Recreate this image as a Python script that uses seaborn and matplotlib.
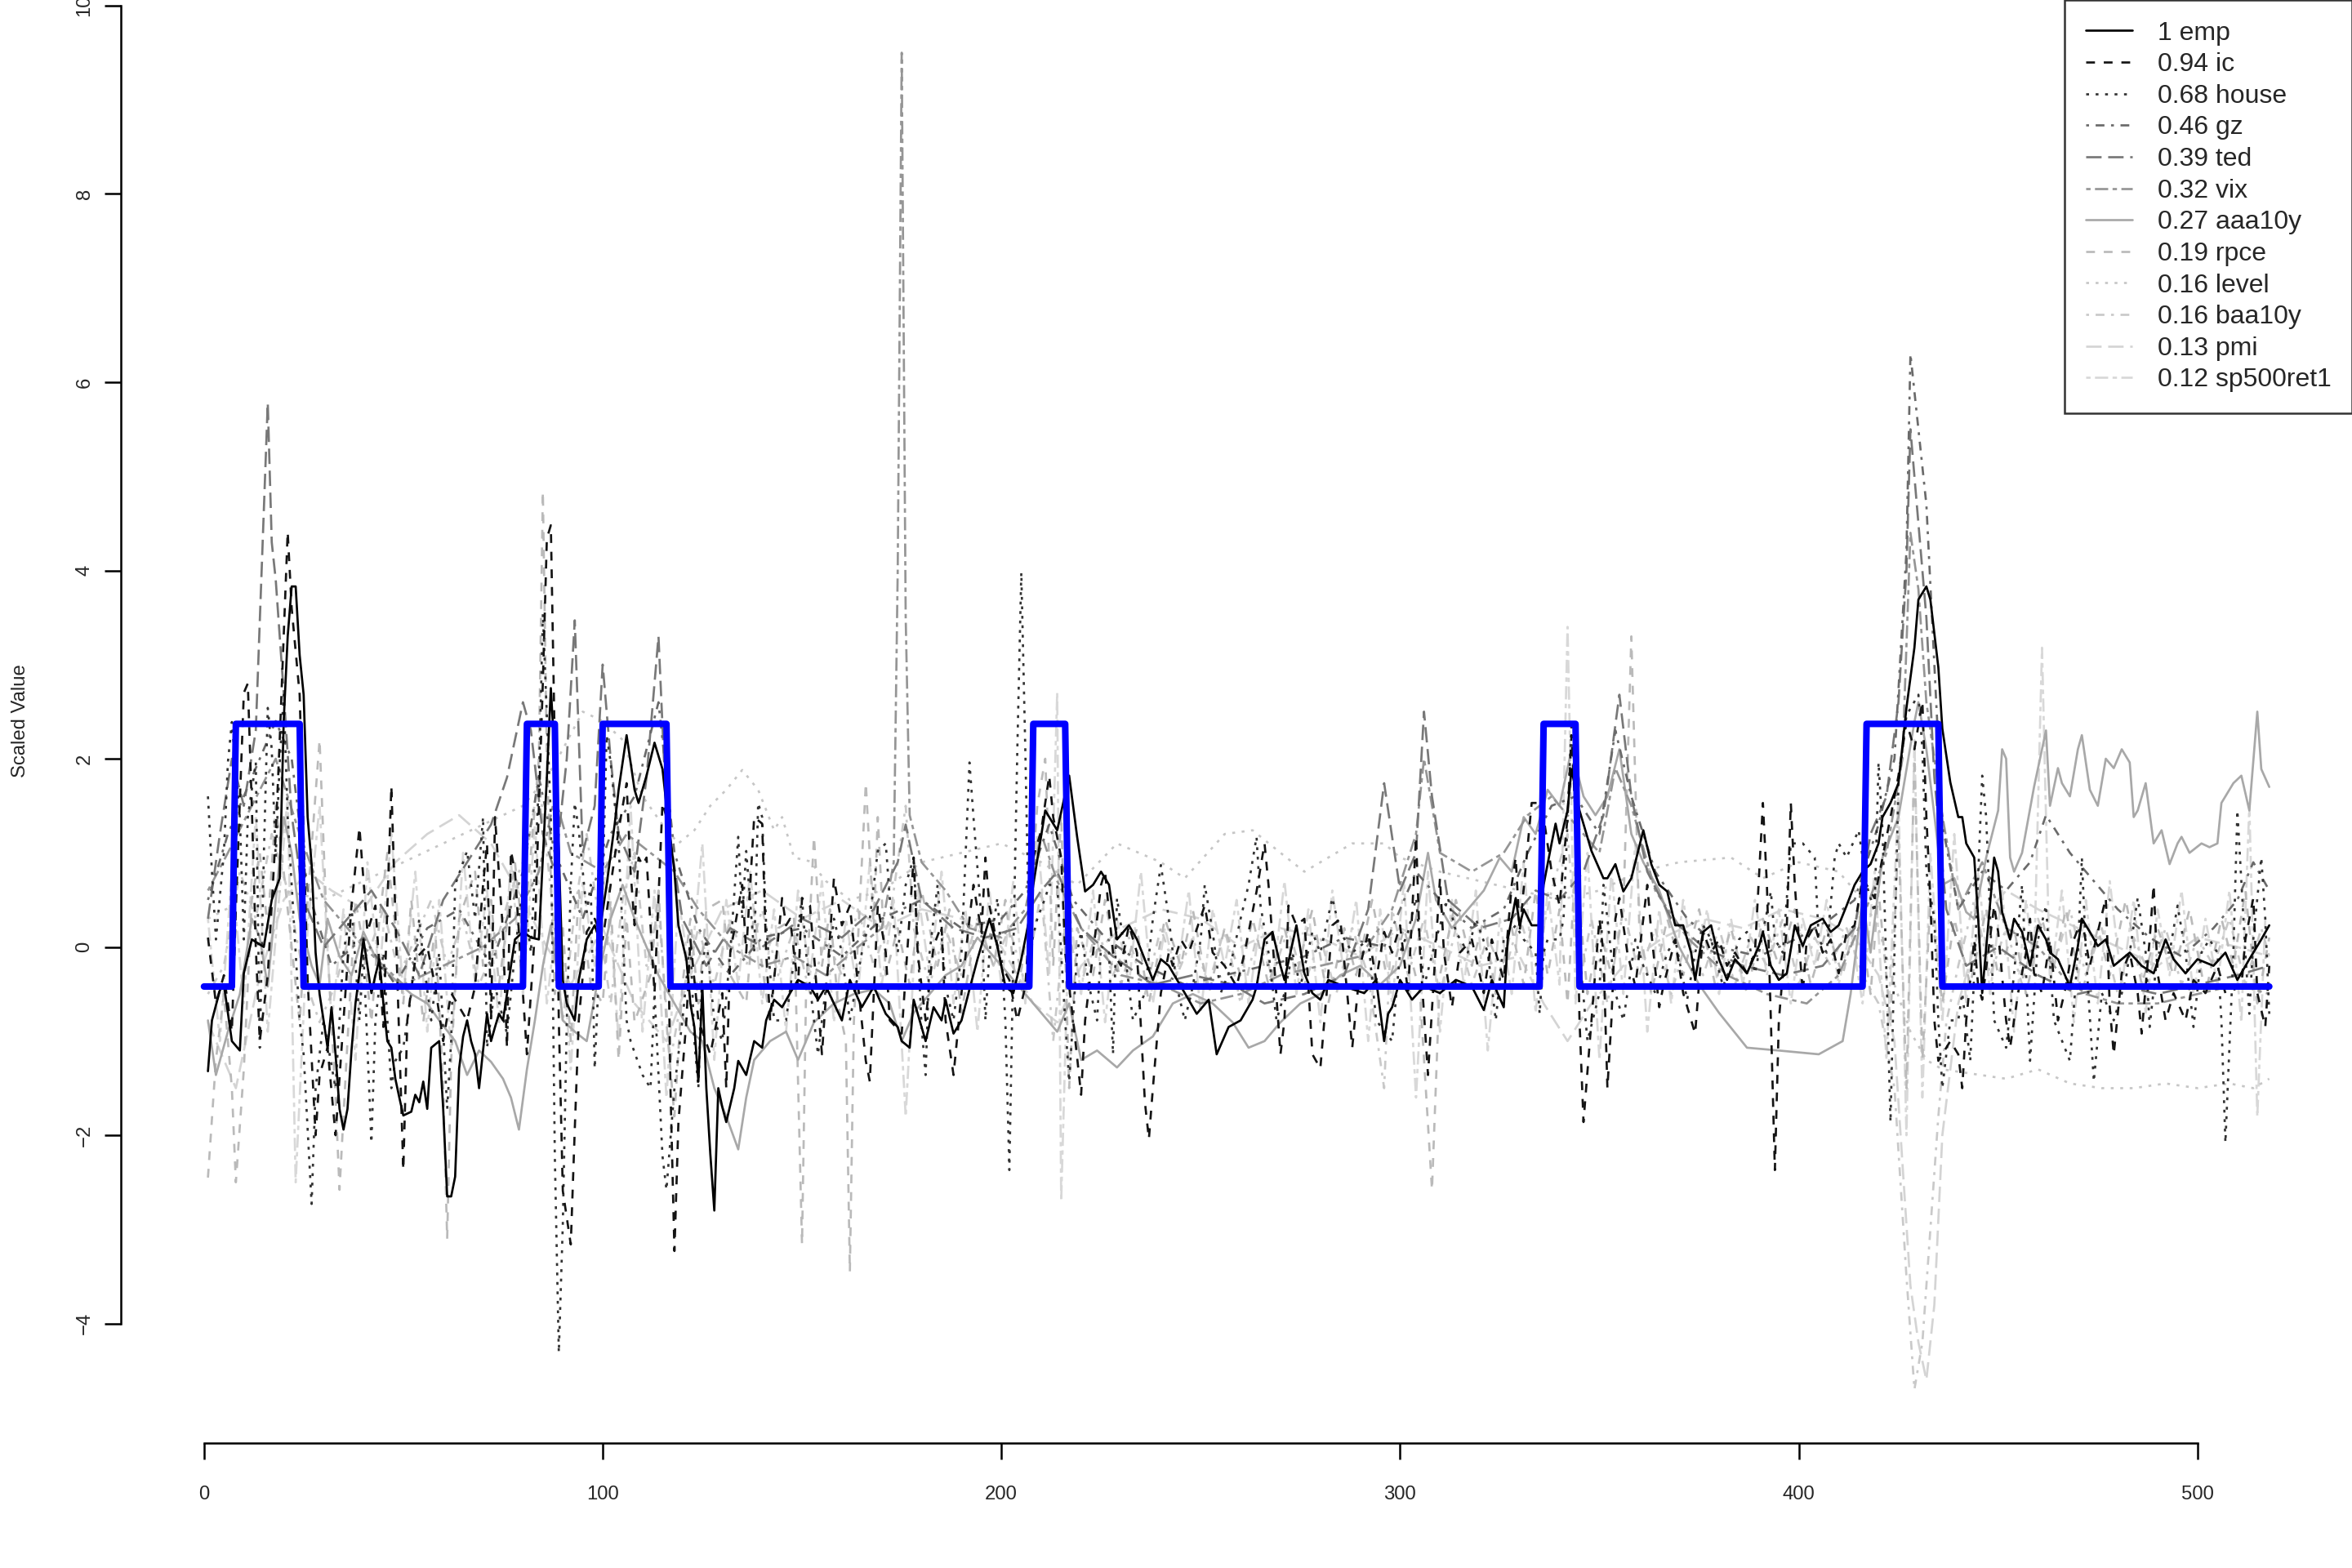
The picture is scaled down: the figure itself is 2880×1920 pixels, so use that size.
import numpy as np
import matplotlib
matplotlib.use('Agg')
import matplotlib.pyplot as plt
import seaborn as sns
from matplotlib.lines import Line2D

# values as (index, scaled value)
emp_pts = [(1,-1.32),(2,-0.78),(4,-0.46),(5,-0.40),(7,-1.0),(9,-1.1),(10,-0.28),(12,0.08),(15,0.0),(17,0.5),(19,0.73),
    (20,2.4),(21,3.3),(22,3.83),(23,3.83),(24,3.1),(25,2.68),(26,1.38),(27,0.88),(28,-0.06),(29,-0.5),(30,-0.78),
    (31,-1.07),(32,-0.64),(33,-1.14),(34,-1.72),(35,-1.94),(36,-1.72),(37,-1.1),(38,-0.6),(39,-0.28),(40,0.08),
    (41,-0.2),(42,-0.49),(43,-0.3),(44,-0.13),(45,-0.6),(46,-1.0),(47,-1.07),(48,-1.4),(49,-1.6),(50,-1.79),
    (52,-1.75),(53,-1.57),(54,-1.65),(55,-1.43),(56,-1.72),(57,-1.07),(59,-1.0),(60,-1.72),(61,-2.65),(62,-2.65),
    (63,-2.44),(64,-1.29),(65,-0.95),(66,-0.78),(67,-1.0),(68,-1.14),(69,-1.5),(70,-1.1),(71,-0.71),(72,-1.0),
    (73,-0.85),(74,-0.71),(75,-0.78),(76,-0.5),(77,-0.2),(78,0.08),(80,0.16),(82,0.1),(84,0.08),(85,0.95),(86,1.8),
    (87,2.75),(88,2.0),(89,1.0),(90,-0.35),(91,-0.6),(93,-0.78),(94,-0.35),(96,0.08),(98,0.23),(99,0.1),(101,0.66),
    (103,1.3),(104,1.67),(106,2.25),(108,1.67),(109,1.53),(111,1.82),(113,2.17),(115,1.89),(116,1.5),(118,0.8),
    (119,0.23),(121,-0.13),(122,-0.6),(123,-0.85),(124,-1.43),(125,-0.42),(126,-1.5),(127,-2.2),(128,-2.8),
    (129,-1.5),(130,-1.7),(131,-1.86),(133,-1.5),(134,-1.21),(136,-1.36),(138,-1.0),(140,-1.07),(141,-0.78),
    (143,-0.56),(145,-0.64),(147,-0.49),(149,-0.35),(152,-0.42),(154,-0.56),(156,-0.42),(158,-0.6),(160,-0.78),
    (162,-0.35),(165,-0.64),(168,-0.42),(171,-0.71),(174,-0.85),(175,-1.0),(177,-1.07),(178,-0.56),(181,-1.0),
    (183,-0.64),(185,-0.78),(186,-0.56),(188,-0.92),(190,-0.78),(192,-0.45),(194,-0.13),(197,0.30),(199,0.01),
    (201,-0.42),(203,-0.49),(205,-0.13),(207,0.3),(208,0.66),(211,1.45),(214,1.24),(217,1.82),(219,1.17),
    (221,0.59),(223,0.66),(225,0.80),(227,0.66),(229,0.08),(232,0.23),(234,0.08),(238,-0.35),(240,-0.13),
    (242,-0.2),(246,-0.49),(249,-0.71),(252,-0.56),(254,-1.14),(257,-0.85),(260,-0.78),(263,-0.56),(264,-0.42),
    (266,0.08),(268,0.16),(270,-0.2),(271,-0.35),(274,0.23),(276,-0.28),(278,-0.49),(280,-0.56),(282,-0.35),
    (286,-0.42),(291,-0.49),(294,-0.35),(296,-1.0),(297,-0.71),(298,-0.64),(300,-0.35),(303,-0.56),(306,-0.42),
    (310,-0.49),(314,-0.35),(318,-0.42),(321,-0.67),(323,-0.35),(326,-0.64),(327,0.08),(329,0.52),(330,0.23),
    (331,0.4),(333,0.23),(335,0.23),(336,0.66),(338,1.10),(339,1.31),(340,1.10),(342,1.45),(343,1.89),(345,1.45),
    (348,1.02),(351,0.73),(352,0.73),(354,0.88),(356,0.59),(358,0.73),(361,1.24),(363,0.88),(365,0.66),(367,0.59),
    (369,0.23),(371,0.23),(373,-0.06),(374,-0.35),(376,0.16),(378,0.23),(380,-0.13),(382,-0.35),(384,-0.13),
    (387,-0.28),(390,0.01),(391,0.16),(393,-0.2),(395,-0.35),(397,-0.28),(399,0.23),(401,0.01),(403,0.23),
    (406,0.30),(408,0.16),(410,0.23),(412,0.44),(414,0.66),(416,0.80),(418,0.88),(420,1.10),(421,1.38),(423,1.53),
    (425,1.74),(427,2.54),(429,3.18),(430,3.69),(431,3.76),(432,3.83),(433,3.69),(435,2.97),(436,2.32),(438,1.75),
    (440,1.38),(441,1.38),(442,1.10),(444,0.95),(445,0.30),(446,-0.49),(449,0.95),(450,0.80),(451,0.37),(453,0.08),
    (454,0.30),(456,0.16),(458,-0.2),(460,0.23),(462,0.08),(463,-0.06),(465,-0.13),(468,-0.42),(470,0.01),
    (471,0.30),(473,0.16),(475,0.01),(477,0.08),(479,-0.2),(481,-0.13),(483,-0.06),(486,-0.2),(489,-0.28),
    (492,0.08),(494,-0.13),(497,-0.28),(500,-0.13),(504,-0.2),(507,-0.06),(510,-0.35),(513,-0.13),(516,0.08),
    (518,0.23)]

ic_pts = [(1,0.1),(3,-0.6),(5,-0.3),(7,-0.9),(8,0.4),(10,2.7),(11,2.8),(12,1.5),(13,0.0),(14,-1.0),(16,-0.3),
    (18,1.2),(19,2.2),(21,4.41),(22,3.6),(24,2.68),(26,-0.35),(28,-2.0),(29,-1.36),(31,-1.07),(33,-2.0),(37,0.44),
    (39,1.27),(41,0.16),(43,0.44),(45,-0.85),(47,1.71),(50,-2.37),(51,-0.78),(53,-0.13),(56,0.01),(58,-0.42),
    (60,-1.0),(62,-0.49),(66,-0.78),(68,-0.42),(70,0.66),(71,1.1),(72,-0.78),(73,1.38),(75,0.16),(76,-1.07),
    (77,1.02),(78,0.8),(81,-1.14),(83,0.16),(85,2.82),(86,4.34),(87,4.48),(88,2.1),(89,-0.78),(90,-2.59),
    (92,-3.16),(93,-1.94),(94,-0.78),(96,0.16),(98,0.30),(100,0.08),(102,0.66),(104,1.24),(106,1.74),(107,0.8),
    (108,0.23),(109,0.95),(110,0.87),(111,0.95),(112,0.23),(113,-0.49),(115,1.53),(116,1.38),(117,-1.5),
    (118,-3.23),(119,-1.86),(121,-0.78),(122,0.08),(124,-0.78),(127,-1.14),(130,-0.49),(131,-1.5),(132,-0.06),
    (135,0.66),(136,-0.06),(138,1.38),(140,1.31),(141,-0.06),(142,-0.78),(145,0.52),(146,0.23),(147,0.30),
    (149,-0.42),(150,0.52),(152,0.44),(155,-1.14),(158,0.73),(160,0.23),(162,0.44),(166,-1.21),(167,-1.43),
    (169,0.44),(171,-0.06),(172,-0.78),(175,-0.92),(178,0.95),(179,-0.06),(181,-0.78),(183,0.01),(185,0.23),
    (186,-0.78),(188,-1.36),(190,-0.49),(192,0.30),(193,0.66),(195,0.16),(196,0.95),(197,0.44),(200,-0.2),
    (202,-0.35),(204,-0.78),(206,-0.42),(207,0.23),(208,0.95),(210,1.24),(212,1.82),(213,1.38),(215,0.95),
    (216,-0.06),(218,-0.78),(220,-1.57),(221,-0.78),(223,-0.06),(225,0.66),(226,0.80),(228,-0.06),(230,-0.2),
    (232,0.23),(234,-0.06),(236,-1.65),(237,-2.04),(238,-1.5),(240,-0.49),(242,-0.06),(243,-0.2),(245,0.08),
    (247,-0.06),(251,0.44),(253,-0.06),(256,-0.2),(259,-0.42),(261,-0.06),(264,0.59),(266,1.10),(267,0.66),
    (268,0.08),(270,-1.14),(271,-0.78),(272,0.44),(274,0.23),(276,0.30),(278,-1.14),(280,-1.29),(282,-0.28),
    (283,0.23),(285,0.30),(288,-1.07),(290,-0.2),(292,0.16),(294,-0.35),(296,0.16),(298,-0.06),(300,0.23),
    (302,-0.49),(304,1.17),(305,-0.06),(307,-1.36),(310,0.73),(311,-0.06),(313,-0.64),(315,-0.06),(318,0.08),
    (321,-0.49),(323,0.08),(326,-0.35),(328,0.66),(329,0.95),(330,0.16),(333,1.53),(335,1.53),(336,1.38),
    (338,0.80),(340,0.44),(342,1.38),(343,2.25),(344,1.38),(345,-0.78),(346,-1.86),(348,-0.78),(350,0.30),
    (351,-0.06),(352,-1.5),(353,-0.78),(354,0.30),(355,0.52),(357,-0.06),(359,-0.42),(361,0.30),(362,0.66),
    (363,0.16),(365,-0.64),(366,-0.42),(369,0.08),(371,-0.49),(374,-0.92),(376,0.16),(378,-0.06),(380,0.08),
    (382,-0.2),(384,-0.06),(387,-0.28),(389,-0.06),(391,1.53),(392,0.66),(393,-0.78),(394,-2.37),(395,-0.78),
    (397,0.23),(398,1.53),(399,0.66),(401,-0.49),(402,0.08),(404,0.23),(406,-0.06),(408,0.08),(410,-0.28),
    (412,0.16),(414,0.23),(416,0.73),(419,0.52),(421,0.95),(423,1.38),(425,1.82),(427,2.39),(429,2.1),(431,2.61),
    (432,1.38),(433,0.52),(434,-0.78),(435,-1.21),(438,-1.0),(440,-1.14),(441,-1.5),(442,-0.78),(444,0.08),
    (445,-0.42),(446,-0.56),(449,0.44),(450,0.16),(452,-0.78),(453,-1.07),(455,-0.49),(457,-0.06),(458,0.30),
    (459,-0.28),(461,-0.49),(463,0.08),(465,-0.78),(467,-0.42),(469,0.08),(471,0.30),(473,-0.2),(475,0.16),
    (477,0.52),(478,-0.64),(479,-1.14),(481,-0.28),(483,-0.06),(485,-0.49),(486,-0.92),(488,0.08),(489,0.66),
    (490,-0.28),(492,-0.78),(494,-0.49),(497,-0.78),(499,-0.35),(502,-0.49),(505,-0.2),(507,-0.49),(511,-0.42),
    (512,0.08),(514,0.52),(515,-0.49),(517,-0.85),(518,-0.2)]

house_pts = [(1,1.6),(2,0.8),(3,0.08),(5,1.0),(6,1.96),(7,2.39),(9,1.38),(10,0.08),(11,1.38),(13,1.96),(14,-1.07),
    (15,0.95),(16,2.54),(17,2.1),(18,0.95),(19,1.96),(20,2.68),(21,1.38),(24,-0.78),(25,-1.14),(27,-2.73),
    (28,-1.5),(30,-0.78),(33,-1.5),(35,-0.06),(37,0.44),(39,-0.78),(40,-0.06),(42,-2.08),(43,-0.78),(45,-0.06),
    (47,-1.5),(48,-1.21),(50,-1.07),(52,-0.49),(54,0.30),(55,-0.13),(57,-0.78),(59,-0.06),(61,-1.72),(62,-1.0),
    (63,0.66),(66,1.02),(68,0.30),(70,1.38),(71,-1.07),(73,-0.42),(76,-0.92),(78,-0.06),(80,0.66),(82,-0.06),
    (84,1.74),(85,3.54),(87,1.38),(88,-2.22),(89,-4.31),(90,-2.95),(91,-0.78),(92,0.66),(93,1.53),(94,1.24),
    (96,0.37),(97,0.66),(98,-1.29),(100,0.66),(101,2.25),(102,1.96),(104,1.10),(106,-0.78),(107,-1.0),
    (110,-1.36),(112,-1.5),(113,-0.49),(115,-2.22),(116,-2.58),(118,-1.5),(120,-0.78),(122,0.08),(123,-1.0),
    (124,-1.5),(125,-0.2),(126,0.08),(128,-0.78),(130,-1.0),(132,-0.06),(134,1.17),(135,0.30),(136,1.02),
    (138,-0.06),(139,1.53),(140,1.38),(141,0.23),(143,-0.78),(146,-0.78),(150,0.52),(151,-0.06),(154,-1.14),
    (158,0.30),(160,-0.06),(162,-0.78),(165,-0.06),(167,0.30),(169,1.02),(171,1.10),(172,0.52),(174,-0.06),
    (176,0.66),(178,0.95),(180,-0.85),(181,-1.36),(182,-0.06),(184,0.66),(186,-0.42),(188,-0.78),(190,-0.06),
    (192,1.96),(193,1.38),(195,0.30),(196,-0.78),(197,-0.06),(199,0.52),(200,-0.06),(201,-0.78),(202,-2.37),
    (203,-0.06),(204,2.1),(205,3.98),(206,2.1),(207,-0.06),(209,0.30),(211,0.52),(212,0.66),(214,0.66),
    (216,-0.78),(217,-1.43),(219,-0.06),(220,0.16),(222,-0.42),(224,-0.78),(225,0.01),(227,-0.06),(228,-1.14),
    (229,0.52),(231,-0.06),(233,-0.78),(236,-0.49),(238,0.30),(240,0.87),(242,0.30),(244,-0.42),(246,-0.78),
    (248,-0.42),(250,0.08),(251,0.66),(253,0.16),(255,-0.49),(257,-0.28),(260,0.30),(262,0.66),(264,1.17),
    (265,0.44),(267,-0.06),(269,-0.78),(271,-0.49),(273,-0.06),(275,-0.42),(278,0.16),(280,-0.06),(283,0.52),
    (285,0.16),(288,-0.06),(292,0.08),(294,-0.78),(298,-1.0),(300,-0.06),(302,0.16),(304,0.52),(306,-0.42),
    (309,0.08),(312,0.52),(314,0.16),(317,-0.06),(319,0.30),(322,-0.06),(324,-0.78),(326,0.08),(329,0.23),
    (331,0.08),(334,-0.06),(335,-0.71),(336,-0.06),(337,0.08),(340,0.08),(341,0.30),(343,2.39),(344,1.5),
    (345,-0.06),(347,-1.0),(350,-0.49),(351,0.66),(352,0.30),(354,-0.49),(356,-0.78),(359,0.08),(361,-0.2),
    (364,-0.49),(367,-0.06),(369,0.08),(372,-0.56),(374,-0.06),(376,0.23),(378,0.08),(381,-0.42),(383,-0.2),
    (385,0.08),(387,0.16),(389,-0.28),(393,0.59),(394,0.08),(396,-0.06),(398,1.10),(401,1.10),(404,0.95),
    (405,0.08),(407,-0.06),(409,0.95),(410,1.10),(412,0.95),(415,1.24),(417,0.66),(419,0.37),(420,1.96),
    (421,1.24),(423,-1.86),(424,-0.06),(425,1.74),(427,2.46),(430,2.68),(431,2.10),(432,0.80),(434,0.30),
    (435,-0.78),(436,-1.5),(438,-0.78),(440,-0.78),(441,-0.49),(443,-1.21),(444,-0.28),(446,1.82),(447,1.38),
    (449,-0.78),(452,-1.07),(454,-0.28),(456,0.66),(458,-1.21),(460,0.08),(462,0.44),(464,-0.78),(468,-1.21),
    (470,-0.06),(471,0.95),(472,-0.06),(474,-1.43),(476,-0.49),(479,-0.78),(482,-0.35),(485,0.52),(487,-0.06),
    (488,-0.85),(490,-0.06),(493,-0.06),(495,0.44),(497,-0.06),(499,-0.85),(501,-0.06),(503,0.08),(505,-0.06),
    (506,-0.78),(507,-2.08),(509,-0.06),(510,1.45),(512,-0.06),(513,-0.71),(514,0.08),(516,0.95),(517,0.30),
    (518,-0.71)]

gz_pts = [(1,0.5),(6,1.2),(12,1.8),(18,2.4),(22,2.0),(26,0.6),(32,-0.2),(40,0.1),(48,-0.4),(56,0.2),(64,0.4),
    (72,-0.2),(80,0.8),(84,1.8),(88,1.0),(95,0.3),(102,1.2),(108,1.6),(114,2.6),(118,1.0),(124,0.2),(132,-0.3),
    (140,0.1),(150,0.2),(160,-0.1),(170,0.3),(180,0.5),(190,0.2),(200,0.3),(206,0.6),(212,1.3),(218,0.5),
    (226,0.1),(236,-0.2),(246,-0.4),(256,-0.3),(266,-0.2),(276,-0.1),(286,0.1),(296,0.0),(304,0.8),(310,0.5),
    (318,0.2),(326,0.4),(332,1.0),(338,1.5),(344,1.6),(350,1.2),(354,2.3),(358,1.6),(364,0.8),(372,0.3),
    (380,0.0),(390,-0.1),(400,0.1),(408,0.3),(414,0.5),(420,1.3),(424,2.0),(427,4.2),(428,6.3),(430,5.5),
    (432,4.7),(434,3.0),(436,1.3),(440,0.4),(446,0.8),(452,0.6),(458,0.9),(462,1.4),(468,1.0),(474,0.7),
    (480,0.4),(488,0.1),(496,-0.1),(504,0.2),(510,0.5),(514,0.9),(518,0.6)]

ted_pts = [(1,0.3),(4,1.2),(7,2.0),(10,1.5),(13,2.3),(16,5.78),(17,4.3),(18,3.9),(20,2.7),(22,1.4),(25,0.5),
    (30,0.0),(36,0.3),(42,0.6),(48,0.2),(54,-0.3),(60,0.5),(66,0.9),(72,1.3),(76,1.8),(80,2.6),(82,2.3),
    (85,1.2),(88,0.8),(91,2.0),(93,3.47),(95,1.0),(98,1.5),(100,3.0),(102,2.0),(104,1.2),(108,0.8),(111,1.8),
    (114,3.3),(116,1.4),(120,0.3),(126,-0.2),(132,0.2),(140,0.0),(150,0.3),(160,0.1),(168,0.4),(174,0.9),
    (176,1.3),(180,0.5),(188,0.2),(196,0.1),(204,0.2),(210,0.6),(214,0.8),(220,0.2),(228,-0.1),(238,-0.4),
    (248,-0.3),(258,-0.4),(266,-0.6),(276,-0.5),(286,-0.3),(292,0.4),(296,1.74),(300,0.6),(304,1.0),(306,2.5),
    (308,1.6),(312,0.5),(320,0.2),(328,0.3),(334,0.6),(340,0.5),(346,0.8),(351,1.4),(355,2.68),(358,1.6),
    (362,0.8),(368,0.3),(376,0.0),(386,-0.2),(396,-0.3),(406,-0.2),(414,0.2),(418,1.2),(422,1.6),(425,2.6),
    (427,4.0),(428,5.5),(430,4.5),(432,3.5),(434,1.8),(437,0.4),(442,-0.2),(450,0.0),(460,-0.3),(470,-0.5),
    (480,-0.4),(490,-0.5),(500,-0.4),(510,-0.3),(518,-0.2)]

vix_pts = [(1,0.6),(6,1.0),(12,1.5),(18,2.0),(24,1.2),(30,0.5),(40,0.0),(50,-0.4),(60,-0.2),(70,0.0),(78,0.3),
    (84,0.8),(88,1.6),(92,1.0),(100,0.8),(106,1.2),(112,1.0),(118,0.8),(124,0.4),(132,0.0),(140,-0.2),
    (148,-0.1),(156,-0.3),(164,0.0),(170,0.2),(173,0.9),(174,4.0),(175,9.5),(176,3.5),(177,1.4),(180,0.9),
    (186,0.6),(192,0.2),(200,0.1),(206,0.4),(210,1.2),(214,0.7),(220,0.2),(230,-0.3),(240,-0.4),(250,-0.6),
    (260,-0.5),(270,-0.3),(280,-0.2),(290,-0.1),(298,0.4),(304,1.2),(306,2.0),(310,1.0),(318,0.8),(326,1.0),
    (332,1.4),(338,1.6),(344,1.3),(350,1.0),(354,1.9),(358,1.5),(364,0.6),(372,0.1),(382,-0.3),(392,-0.5),
    (402,-0.6),(410,-0.3),(416,0.3),(422,1.0),(426,2.0),(428,4.4),(430,3.8),(432,2.6),(436,1.4),(440,0.4),
    (446,0.9),(452,0.2),(460,0.0),(466,-0.3),(472,-0.5),(480,-0.6),(490,-0.6),(500,-0.5),(510,-0.4),(518,-0.5)]

aaa10y_pts = [(1,-0.78),(3,-1.36),(6,-0.9),(9,-0.5),(12,0.3),(14,0.1),(16,-0.42),(18,0.5),(20,1.38),(22,1.0),
    (24,0.3),(27,-0.2),(29,-0.4),(31,0.3),(34,-0.1),(37,-0.3),(40,0.16),(44,-0.2),(48,-0.35),(52,-0.5),
    (56,-0.6),(59,-0.78),(63,-1.0),(66,-1.36),(69,-1.1),(72,-1.22),(75,-1.4),(77,-1.6),(79,-1.94),(81,-1.3),
    (83,-0.78),(85,-0.2),(87,0.23),(89,-0.4),(90,-0.78),(93,-0.9),(96,-1.0),(99,-0.3),(102,0.3),(105,0.66),
    (108,0.3),(111,0.0),(114,-0.3),(118,-0.6),(122,-0.9),(125,-1.0),(128,-1.5),(131,-1.8),(134,-2.15),
    (136,-1.6),(138,-1.2),(142,-1.0),(146,-0.9),(149,-1.2),(153,-0.8),(158,-0.6),(163,-0.5),(168,-0.45),
    (172,-0.6),(175,-1.0),(178,-0.7),(182,-0.5),(186,-0.3),(190,-0.2),(194,0.1),(198,-0.1),(202,-0.3),
    (206,-0.5),(210,-0.7),(214,-0.9),(217,-0.6),(220,-1.2),(224,-1.1),(229,-1.28),(233,-1.1),(238,-0.95),
    (243,-0.6),(248,-0.5),(253,-0.6),(258,-0.8),(262,-1.07),(266,-1.0),(270,-0.8),(275,-0.6),(280,-0.5),
    (285,-0.3),(290,-0.2),(295,-0.4),(300,-0.2),(304,0.3),(307,1.0),(309,0.5),(313,0.2),(317,0.4),(321,0.6),
    (325,0.95),(328,0.8),(331,1.38),(334,1.2),(337,1.67),(340,1.5),(343,2.1),(346,1.6),(349,1.4),(352,1.6),
    (355,2.1),(358,1.2),(361,0.9),(365,0.6),(370,0.0),(375,-0.4),(380,-0.7),(387,-1.07),(395,-1.1),
    (405,-1.14),(411,-1.0),(413,-0.5),(416,0.52),(418,-0.06),(421,0.95),(425,1.38),(429,2.39),(430,2.6),
    (432,2.1),(434,1.4),(436,0.66),(439,0.73),(442,0.37),(444,0.3),(447,0.95),(450,1.45),(451,2.1),(452,2.0),
    (453,0.95),(454,0.8),(456,1.0),(459,1.7),(462,2.3),(463,1.5),(465,1.9),(466,1.74),(468,1.6),(470,2.1),
    (471,2.25),(473,1.67),(475,1.5),(477,2.0),(479,1.9),(481,2.1),(483,1.96),(484,1.38),(485,1.45),(487,1.74),
    (489,1.1),(491,1.24),(493,0.88),(495,1.1),(496,1.17),(498,1.0),(501,1.1),(503,1.06),(505,1.1),(506,1.53),
    (509,1.74),(511,1.82),(513,1.45),(515,2.5),(516,1.89),(518,1.7)]

rpce_pts = [(1,-2.45),(3,-1.2),(5,-0.5),(7,-1.5),(8,-2.5),(10,-1.3),(12,0.5),(14,1.0),(16,0.2),(18,1.5),
    (20,0.8),(22,0.0),(24,-0.8),(26,0.5),(29,2.2),(31,0.0),(33,-1.6),(34,-2.58),(36,-1.0),(38,0.5),(40,0.0),
    (42,-0.8),(44,0.3),(46,1.0),(48,0.2),(50,-0.6),(52,0.5),(55,-0.8),(58,0.2),(60,-1.5),(61,-3.1),(62,-1.2),
    (64,0.3),(68,0.8),(70,-0.2),(72,0.5),(74,-0.4),(78,0.9),(80,0.1),(82,1.0),(84,2.0),(85,4.84),(86,2.0),
    (88,-0.5),(90,0.2),(92,-1.0),(94,0.6),(97,-0.4),(100,-0.6),(102,0.5),(104,-1.2),(106,0.3),(108,-0.8),
    (112,-0.3),(114,0.6),(116,-0.8),(118,-1.8),(120,-0.4),(122,0.3),(124,-0.6),(126,0.4),(130,0.5),(132,-0.3),
    (136,-0.6),(138,0.4),(142,-0.8),(144,0.2),(148,0.3),(150,-3.16),(151,-0.5),(153,1.17),(155,-0.2),
    (157,0.4),(159,-0.6),(161,-1.0),(162,-3.45),(163,-0.8),(166,1.74),(168,0.2),(169,1.38),(171,-0.3),
    (174,0.2),(177,-0.4),(180,0.6),(184,-0.2),(187,0.4),(190,-0.7),(194,0.3),(198,-0.2),(201,0.5),(204,-0.5),
    (207,0.3),(209,1.5),(211,2.0),(213,-0.2),(215,1.4),(217,-1.5),(219,0.2),(223,-0.3),(226,0.5),(230,-0.4),
    (234,0.2),(237,-0.6),(241,0.3),(245,-0.2),(248,0.4),(252,-0.5),(256,0.2),(260,-0.3),(263,0.3),(267,-0.4),
    (271,0.2),(274,-0.3),(278,0.4),(282,-0.6),(286,0.2),(289,-0.3),(293,0.5),(297,-0.4),(301,0.2),(305,-0.5),
    (308,-2.58),(310,-0.3),(314,0.5),(318,-0.2),(321,0.3),(324,-0.5),(328,0.2),(331,-0.4),(334,0.6),(337,-0.3),
    (340,0.4),(342,-0.6),(344,0.9),(347,-0.5),(350,0.2),(353,-0.3),(356,0.4),(358,3.3),(360,0.2),(363,-0.5),
    (367,0.3),(371,-0.3),(375,0.4),(379,-0.4),(383,0.2),(387,-0.5),(391,0.3),(395,-0.2),(399,0.4),(403,-0.4),
    (407,0.2),(411,-0.3),(415,0.4),(418,-0.5),(420,0.6),(423,-0.8),(425,1.2),(427,-1.5),(429,2.0),(431,-1.2),
    (433,0.5),(436,-0.6),(439,0.3),(443,-0.4),(447,0.4),(450,-0.3),(454,0.2),(457,-0.5),(461,0.3),(464,-0.2),
    (467,0.4),(471,-0.5),(475,0.2),(478,-0.3),(482,0.5),(486,-0.4),(490,0.2),(494,-0.3),(498,0.4),(502,-0.5),
    (506,0.3),(509,-0.2),(512,0.6),(515,-0.6),(518,0.1)]

level_pts = [(1,0.3),(10,0.5),(20,0.6),(30,0.5),(40,0.7),(50,0.9),(60,1.1),(70,1.3),(80,1.5),(86,1.8),
    (90,2.1),(95,2.5),(100,2.4),(105,2.2),(110,1.6),(115,1.3),(119,1.1),(123,1.24),(127,1.5),(131,1.67),
    (135,1.88),(139,1.67),(143,1.24),(145,1.38),(148,0.95),(152,0.91),(156,0.7),(162,0.5),(170,0.6),(180,0.9),
    (190,1.0),(200,1.1),(210,0.9),(219,0.66),(229,1.1),(240,0.9),(246,0.73),(256,1.2),(263,1.24),(270,1.0),
    (276,0.8),(282,0.95),(288,1.1),(296,1.1),(300,0.95),(310,0.8),(320,0.7),(330,0.6),(340,0.5),(350,0.6),
    (360,0.8),(370,0.9),(383,0.95),(391,0.73),(400,0.9),(410,0.8),(416,0.5),(420,0.2),(424,-0.4),(428,-0.9),
    (432,-1.2),(436,-1.3),(444,-1.35),(452,-1.4),(460,-1.3),(468,-1.45),(476,-1.5),(484,-1.5),(492,-1.45),
    (500,-1.5),(508,-1.45),(514,-1.5),(518,-1.4)]

baa10y_pts = [(1,-0.5),(5,-0.2),(9,0.8),(13,0.3),(17,1.2),(21,0.6),(25,-0.3),(29,-0.8),(33,-0.4),(37,0.2),
    (41,-0.1),(45,0.4),(49,-0.3),(53,0.1),(57,0.5),(61,-0.2),(65,0.3),(69,-0.4),(73,0.0),(77,0.6),(81,1.0),
    (84,1.8),(87,0.6),(90,-0.8),(93,0.4),(96,1.2),(99,0.3),(102,-0.6),(105,0.5),(108,1.0),(111,-0.2),
    (114,0.4),(117,-1.2),(120,-0.5),(124,0.2),(128,-0.4),(132,0.3),(136,-0.2),(140,0.4),(144,-0.3),
    (148,0.2),(152,-0.5),(156,0.1),(160,-0.3),(164,0.4),(168,-0.2),(172,0.3),(176,1.5),(178,0.2),(182,-0.4),
    (186,0.2),(190,-0.3),(194,0.3),(198,-0.2),(202,0.2),(206,-0.4),(210,0.6),(213,-1.0),(216,0.3),(220,-0.4),
    (224,0.2),(228,-0.3),(232,0.1),(236,-0.5),(240,0.2),(244,-0.3),(248,0.1),(252,-0.4),(256,0.2),(260,-0.6),
    (264,0.1),(268,-0.3),(272,0.2),(276,-0.4),(280,0.1),(284,-0.5),(288,0.2),(292,-0.3),(296,-1.5),(298,0.4),
    (302,-0.3),(306,0.3),(310,-0.5),(314,0.2),(318,-0.4),(322,0.1),(326,-0.3),(330,0.3),(334,-0.2),(338,0.6),
    (342,1.2),(345,-0.4),(348,0.3),(352,-0.6),(356,0.4),(360,-0.3),(364,0.2),(368,-0.5),(372,0.1),(376,-0.3),
    (380,0.2),(384,-0.4),(388,0.1),(392,-0.2),(396,0.3),(400,-0.4),(404,0.1),(408,-0.2),(412,0.2),(416,-0.3),
    (420,-0.6),(424,-1.5),(427,-3.5),(429,-4.7),(431,-4.2),(433,-3.0),(435,-1.8),(437,-0.8),(440,-0.2),
    (444,0.5),(448,-0.3),(452,0.2),(456,-0.4),(460,0.3),(464,-0.2),(468,0.4),(472,-0.3),(476,0.2),(480,-0.5),
    (484,0.1),(488,-0.3),(492,0.2),(496,-0.4),(500,0.1),(504,-0.2),(508,0.3),(512,-0.4),(516,0.2),(518,-0.1)]

pmi_pts = [(1,-0.8),(8,-1.5),(14,-0.3),(20,0.5),(26,0.8),(32,0.6),(40,0.4),(48,0.9),(56,1.2),(64,1.4),
    (72,1.1),(80,0.5),(86,0.0),(92,-0.4),(100,0.2),(108,-0.6),(116,-1.0),(122,-0.3),(130,0.4),(140,0.6),
    (150,0.3),(160,0.5),(170,0.2),(180,0.4),(190,0.3),(200,0.0),(208,-0.6),(214,-0.8),(220,-0.2),(230,0.2),
    (240,0.4),(250,0.3),(260,0.0),(270,0.2),(280,0.1),(290,-0.1),(300,0.2),(310,0.0),(320,-0.2),(330,-0.1),
    (336,-0.6),(342,-1.0),(348,-0.6),(356,-0.2),(366,0.1),(376,0.3),(386,0.2),(396,0.4),(406,0.3),(414,0.1),
    (420,-0.3),(424,-1.0),(428,-3.6),(430,-4.2),(432,-4.6),(434,-3.8),(436,-2.0),(440,-0.6),(446,0.3),
    (452,0.6),(460,0.4),(470,0.2),(480,0.0),(490,-0.2),(500,0.1),(510,0.0),(518,-0.1)]

sp500ret1_pts = [(1,0.3),(4,-1.0),(7,0.8),(10,-0.6),(13,1.4),(16,-0.9),(19,0.6),(21,1.6),(23,-2.5),(26,0.2),
    (29,1.5),(32,-0.8),(35,0.4),(38,-1.2),(41,0.9),(44,-0.3),(47,1.2),(50,-0.5),(53,0.8),(56,-0.9),(59,0.5),
    (62,-1.1),(65,1.0),(68,-0.4),(71,0.6),(74,-0.8),(77,0.9),(80,-0.5),(83,1.3),(86,-0.6),(89,0.5),(92,-1.3),
    (95,0.7),(98,-0.2),(101,0.9),(104,-1.0),(107,1.5),(110,-0.9),(113,0.6),(116,-1.6),(119,0.5),(122,-0.3),
    (125,1.1),(128,-1.2),(131,0.5),(134,-0.4),(137,0.8),(140,-0.6),(143,0.4),(146,-0.9),(149,0.6),(152,-0.3),
    (155,0.7),(158,-0.8),(161,0.3),(164,-0.5),(167,0.9),(170,-0.4),(173,0.5),(176,-1.8),(179,0.6),(182,-0.3),
    (185,0.8),(188,-0.6),(191,0.4),(194,-0.9),(197,0.6),(200,-0.4),(203,0.7),(206,-0.6),(209,1.2),(212,-0.3),
    (214,2.7),(215,-2.7),(217,0.4),(220,-0.5),(223,0.6),(226,-0.8),(229,0.3),(232,-0.4),(235,0.8),(238,-0.6),
    (241,0.2),(244,-0.3),(247,0.6),(250,-0.7),(253,0.4),(256,-0.2),(259,0.5),(262,-0.6),(265,0.3),(268,-0.4),
    (271,0.7),(274,-0.5),(277,0.4),(280,-0.8),(283,0.6),(286,-0.3),(289,0.5),(292,-1.0),(295,0.4),(298,-0.6),
    (301,0.7),(304,-1.6),(307,0.8),(310,-0.9),(313,0.5),(316,-0.4),(319,0.6),(322,-1.1),(325,0.3),(328,-0.5),
    (331,0.9),(334,-0.7),(337,0.6),(340,-0.4),(342,3.4),(344,-0.6),(347,1.0),(350,-1.2),(353,0.8),(356,-0.5),
    (359,1.1),(362,-0.9),(365,0.4),(368,-0.6),(371,0.5),(374,-0.3),(377,0.4),(380,-0.5),(383,0.3),(386,-0.4),
    (389,0.5),(392,-0.3),(395,0.4),(398,-0.6),(401,0.3),(404,-0.2),(407,0.5),(410,-0.4),(413,0.2),(416,-0.6),
    (419,0.8),(422,-1.2),(425,1.6),(427,-2.0),(429,2.2),(431,-1.6),(433,1.0),(436,-0.8),(439,1.2),(442,-0.6),
    (445,0.8),(448,-0.5),(451,0.6),(454,-0.9),(457,0.5),(459,-0.2),(461,3.18),(463,-0.4),(466,0.6),(469,-0.8),
    (472,0.5),(475,-0.6),(478,0.7),(481,-0.4),(484,0.5),(487,-0.7),(490,0.4),(493,-0.3),(496,0.6),(499,-0.5),
    (502,0.3),(505,-0.4),(508,0.6),(511,-0.8),(513,1.5),(515,-1.8),(517,0.3)]

# recession periods (index ranges where the blue state line is high)
recessions = [(8, 24), (81, 88), (100, 116), (208, 216), (336, 344), (417, 435)]
state_low, state_high = -0.42, 2.37
n_obs = 519

labels = ['1 emp', '0.94 ic', '0.68 house', '0.46 gz', '0.39 ted', '0.32 vix', '0.27 aaa10y',
          '0.19 rpce', '0.16 level', '0.16 baa10y', '0.13 pmi', '0.12 sp500ret1']
series = [emp_pts, ic_pts, house_pts, gz_pts, ted_pts, vix_pts, aaa10y_pts,
          rpce_pts, level_pts, baa10y_pts, pmi_pts, sp500ret1_pts]
greys = ['#000000', '#141414', '#333333', '#6a6a6a', '#787878', '#959595', '#a8a8a8',
         '#bababa', '#c6c6c6', '#c9c9c9', '#d4d4d4', '#d8d8d8']
# R lty 1..6: solid, dashed, dotted, dotdash, longdash, twodash
ltys = ['-', (0, (4, 4)), (0, (1.3, 3)), (0, (1.3, 3, 4, 3)), (0, (7, 3)), (0, (2, 2, 6, 2))]
styles = ltys + ltys

sns.set_style('white')
plt.rcParams['font.family'] = ['Liberation Sans', 'DejaVu Sans']
narrow = ['Liberation Sans Narrow', 'Liberation Sans', 'DejaVu Sans']

fig = plt.figure(figsize=(14.4, 9.6), dpi=200)
ax = fig.add_axes([148.4 / 2880, 1 - 1767 / 1920, 1 - 148.4 / 2880, 1767 / 1920])

lw = 0.97
for pts, c, ls in reversed(list(zip(series, greys, styles))):
    arr = np.array(pts)
    sns.lineplot(x=arr[:, 0], y=arr[:, 1], ax=ax, color=c, linestyle=ls, lw=lw,
                 estimator=None, sort=False, legend=False)

idx = np.arange(0, n_obs)
state = np.full(n_obs, state_low)
for a, b in recessions:
    state[(idx >= a) & (idx <= b)] = state_high
sns.lineplot(x=idx, y=state, ax=ax, color='#0000ff', lw=2.9, estimator=None, sort=False, legend=False)

ax.set_xlim(-20.76, 538.75)
ax.set_ylim(-5.27, 10.06)
ax.set_xlabel('')
ax.set_ylabel('')
for s in ['top', 'right']:
    ax.spines[s].set_visible(False)
ax.spines['left'].set_bounds(-4, 10)
ax.spines['bottom'].set_bounds(0, 500)
for s in ['left', 'bottom']:
    ax.spines[s].set_linewidth(0.9)
    ax.spines[s].set_color('black')
ax.set_xticks(range(0, 501, 100))
ax.set_yticks(range(-4, 11, 2))
ax.tick_params(axis='both', bottom=True, left=True, direction='out', length=7.2, width=0.9,
               color='black', labelsize=8.6)
ax.tick_params(axis='x', pad=11.5)
ax.tick_params(axis='y', pad=5)
for t in ax.get_xticklabels():
    t.set_family(narrow)
for t in ax.get_yticklabels():
    t.set_family(narrow)
    t.set_rotation(90)
    t.set_va('center')

fig.text(25 / 2880, 1 - 883 / 1920, 'Scaled Value', rotation=90, va='center', ha='center',
         fontsize=8.6, family=narrow)

handles = [Line2D([0], [0], color=c, linestyle=ls, lw=lw) for c, ls in zip(greys, styles)]
leg = ax.legend(handles, labels, loc='upper right', bbox_to_anchor=(1.0, 1.0), fontsize=11.5,
                frameon=True, fancybox=False, borderaxespad=0, borderpad=0.8, labelspacing=0.27,
                handlelength=1.8, handletextpad=0.95)
leg.get_frame().set_edgecolor('black')
leg.get_frame().set_linewidth(0.9)

fig.savefig('out.png', dpi=200, facecolor='white')
